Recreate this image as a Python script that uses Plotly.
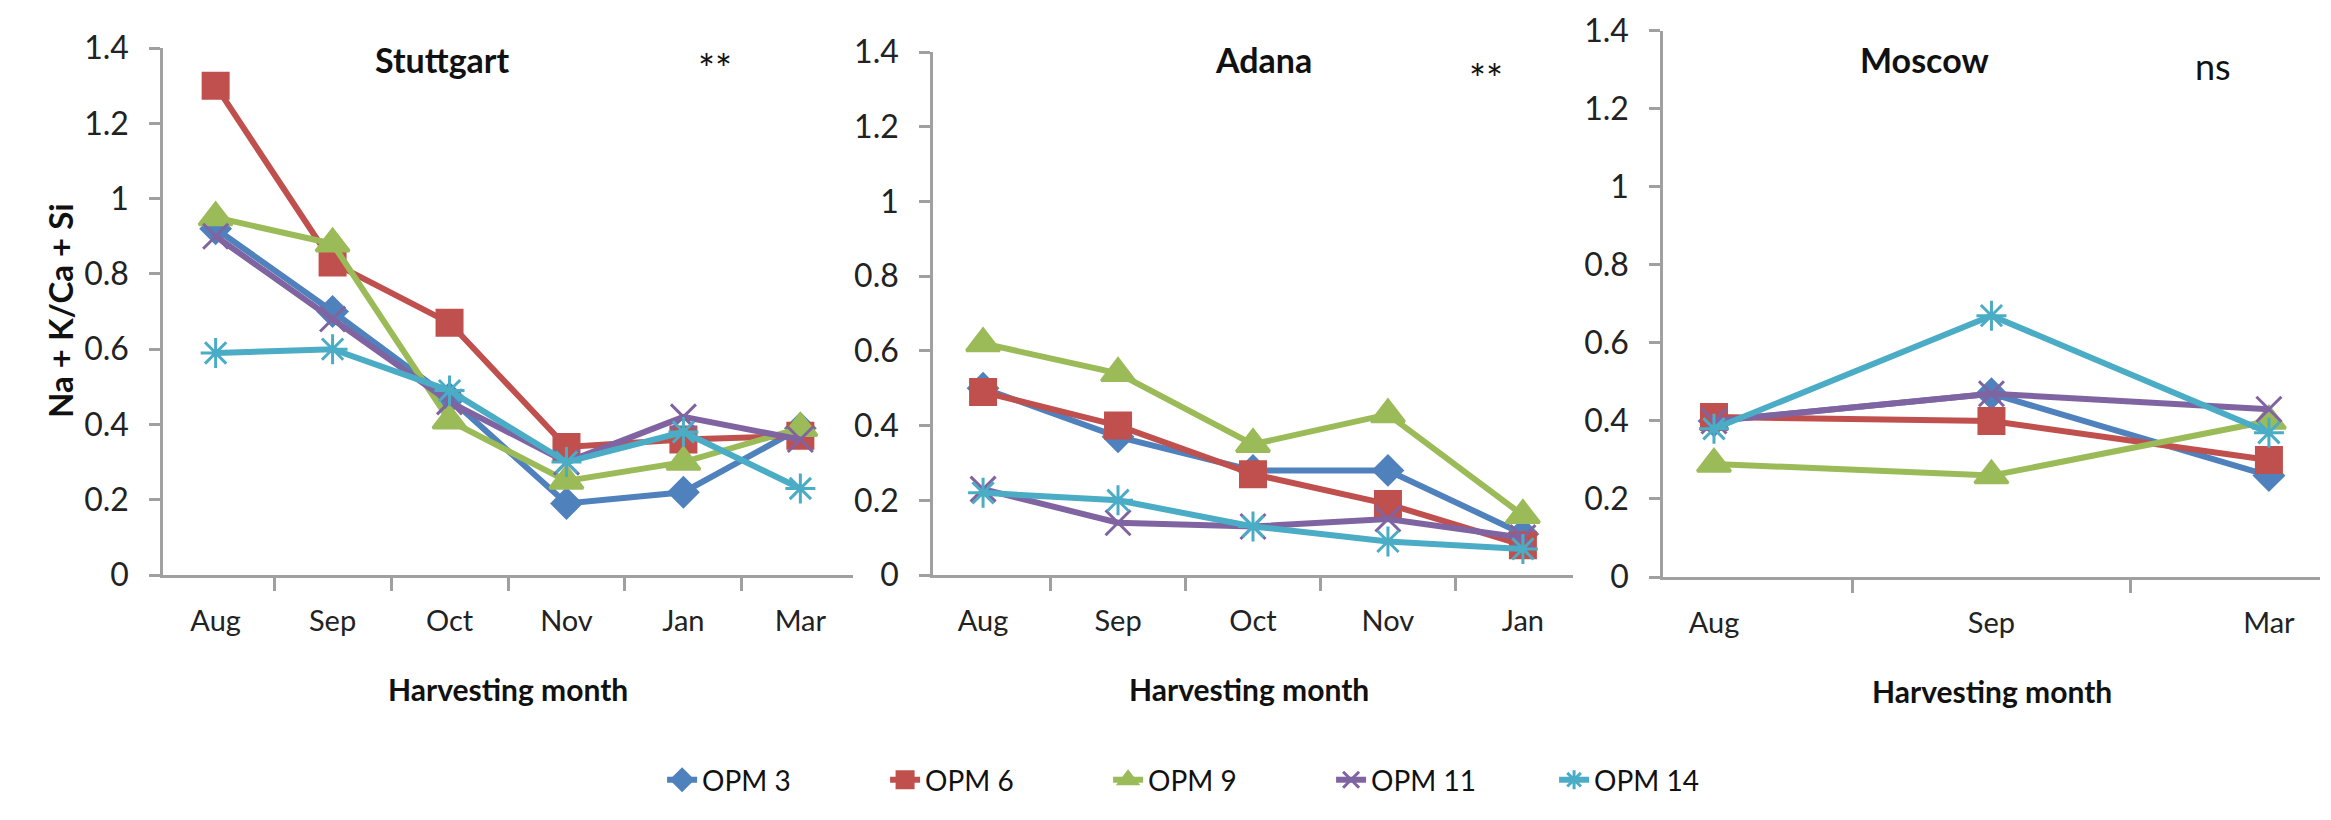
import plotly.graph_objects as go

# harvesting months per site
stuttgart_months = ['Aug', 'Sep', 'Oct', 'Nov', 'Jan', 'Mar']
adana_months = ['Aug', 'Sep', 'Oct', 'Nov', 'Jan']
moscow_months = ['Aug', 'Sep', 'Mar']

series_names = ['OPM 3', 'OPM 6', 'OPM 9', 'OPM 11', 'OPM 14']

# Na + K/Ca + Si ratio, one list per line
stuttgart_opm3 = [0.92, 0.70, 0.47, 0.19, 0.22, 0.39]
stuttgart_opm6 = [1.30, 0.83, 0.67, 0.34, 0.36, 0.37]
stuttgart_opm9 = [0.95, 0.88, 0.41, 0.25, 0.30, 0.39]
stuttgart_opm11 = [0.90, 0.68, 0.46, 0.30, 0.42, 0.36]
stuttgart_opm14 = [0.59, 0.60, 0.49, 0.30, 0.38, 0.23]

adana_opm3 = [0.50, 0.37, 0.28, 0.28, 0.11]
adana_opm6 = [0.49, 0.40, 0.27, 0.19, 0.08]
adana_opm9 = [0.62, 0.54, 0.35, 0.43, 0.16]
adana_opm11 = [0.23, 0.14, 0.13, 0.15, 0.10]
adana_opm14 = [0.22, 0.20, 0.13, 0.09, 0.07]

moscow_opm3 = [0.40, 0.47, 0.26]
moscow_opm6 = [0.41, 0.40, 0.30]
moscow_opm9 = [0.29, 0.26, 0.40]
moscow_opm11 = [0.40, 0.47, 0.43]
moscow_opm14 = [0.38, 0.67, 0.37]

colors = ['#4F81BD', '#C0504D', '#9BBB59', '#8064A2', '#4BACC6']
symbols = ['diamond', 'square', 'triangle-up', 'x-thin-open', 'asterisk-open']
sizes = [22, 25, 29, 25, 25]

FONT = 'Lato, Open Sans, sans-serif'
AXIS_GRAY = '#a0a0a0'

panels = [
    ('x', 'y', stuttgart_months,
     [stuttgart_opm3, stuttgart_opm6, stuttgart_opm9, stuttgart_opm11, stuttgart_opm14]),
    ('x2', 'y2', adana_months,
     [adana_opm3, adana_opm6, adana_opm9, adana_opm11, adana_opm14]),
    ('x3', 'y3', moscow_months,
     [moscow_opm3, moscow_opm6, moscow_opm9, moscow_opm11, moscow_opm14]),
]

fig = go.Figure()

for p, (xa, ya, months, rows) in enumerate(panels):
    for i, vals in enumerate(rows):
        fig.add_trace(go.Scatter(
            x = months, y = vals, xaxis = xa, yaxis = ya,
            name = series_names[i], legendgroup = series_names[i],
            showlegend = (p == 0),
            mode = 'lines+markers',
            line = dict(color = colors[i], width = 6),
            marker = dict(symbol = symbols[i], size = sizes[i], color = colors[i],
                          line = dict(color = colors[i], width = 3)),
        ))

def x_axis(domain, anchor):
    return dict(
        domain = domain, anchor = anchor, type = 'category',
        automargin = False,
        showgrid = False, zeroline = False,
        showline = True, linecolor = AXIS_GRAY, linewidth = 2.5,
        ticks = 'outside', tickson = 'boundaries', ticklen = 13,
        tickcolor = AXIS_GRAY, tickwidth = 2.5,
        tickfont = dict(family = FONT, size = 29, color = '#222'),
        ticklabelstandoff = 18,
    )

def y_axis(domain, anchor):
    return dict(
        domain = domain, anchor = anchor, automargin = False,
        range = [0, 1.4], dtick = 0.2, tick0 = 0,
        showgrid = False, zeroline = False,
        showline = True, linecolor = AXIS_GRAY, linewidth = 2.5,
        ticks = 'outside', ticklen = 11, tickcolor = AXIS_GRAY, tickwidth = 2.5,
        tickfont = dict(family = FONT, size = 32, color = '#222'),
        ticklabelstandoff = 14, ticklabeloverflow = 'allow',
    )

fig.update_layout(
    width = 2331, height = 820,
    margin = dict(l = 0, r = 0, t = 0, b = 0, pad = 0),
    plot_bgcolor = 'white', paper_bgcolor = 'white',
    font = dict(family = FONT, color = '#111'),
    xaxis = x_axis([0.0665, 0.3625], 'y'),
    xaxis2 = x_axis([0.3968, 0.6714], 'y2'),
    xaxis3 = x_axis([0.7100, 0.9918], 'y3'),
    yaxis = y_axis([0.3085, 0.9512], 'x'),
    yaxis2 = y_axis([0.3085, 0.9463], 'x2'),
    yaxis3 = y_axis([0.3061, 0.9720], 'x3'),
    legend = dict(
        orientation = 'h', x = 0.2806, y = 0.0585,
        xanchor = 'left', yanchor = 'middle',
        entrywidth = 178, entrywidthmode = 'pixels',
        font = dict(family = FONT, size = 28, color = '#111'),
    ),
)

annots = [
    ('<b>Stuttgart</b>', 0.1866, 0.9378, 34, 0),
    ('**', 0.3033, 0.9256, 40, 0),
    ('<b>Adana</b>', 0.5388, 0.9378, 34, 0),
    ('**', 0.6341, 0.9134, 40, 0),
    ('<b>Moscow</b>', 0.8220, 0.9378, 34, 0),
    ('ns', 0.9460, 0.9293, 36, 0),
    ('<b>Harvesting month</b>', 0.2145, 0.1695, 30, 0),
    ('<b>Harvesting month</b>', 0.5324, 0.1695, 30, 0),
    ('<b>Harvesting month</b>', 0.8511, 0.1670, 30, 0),
    ('<b>Na + K/Ca + Si</b>', 0.0223, 0.6317, 33, -90),
]
for text, ax, ay, size, ang in annots:
    fig.add_annotation(
        text = text, x = ax, y = ay, xref = 'paper', yref = 'paper',
        showarrow = False, textangle = ang,
        xanchor = 'center', yanchor = 'middle',
        font = dict(family = FONT, size = size, color = '#111'),
    )

fig.write_html("out.html")
